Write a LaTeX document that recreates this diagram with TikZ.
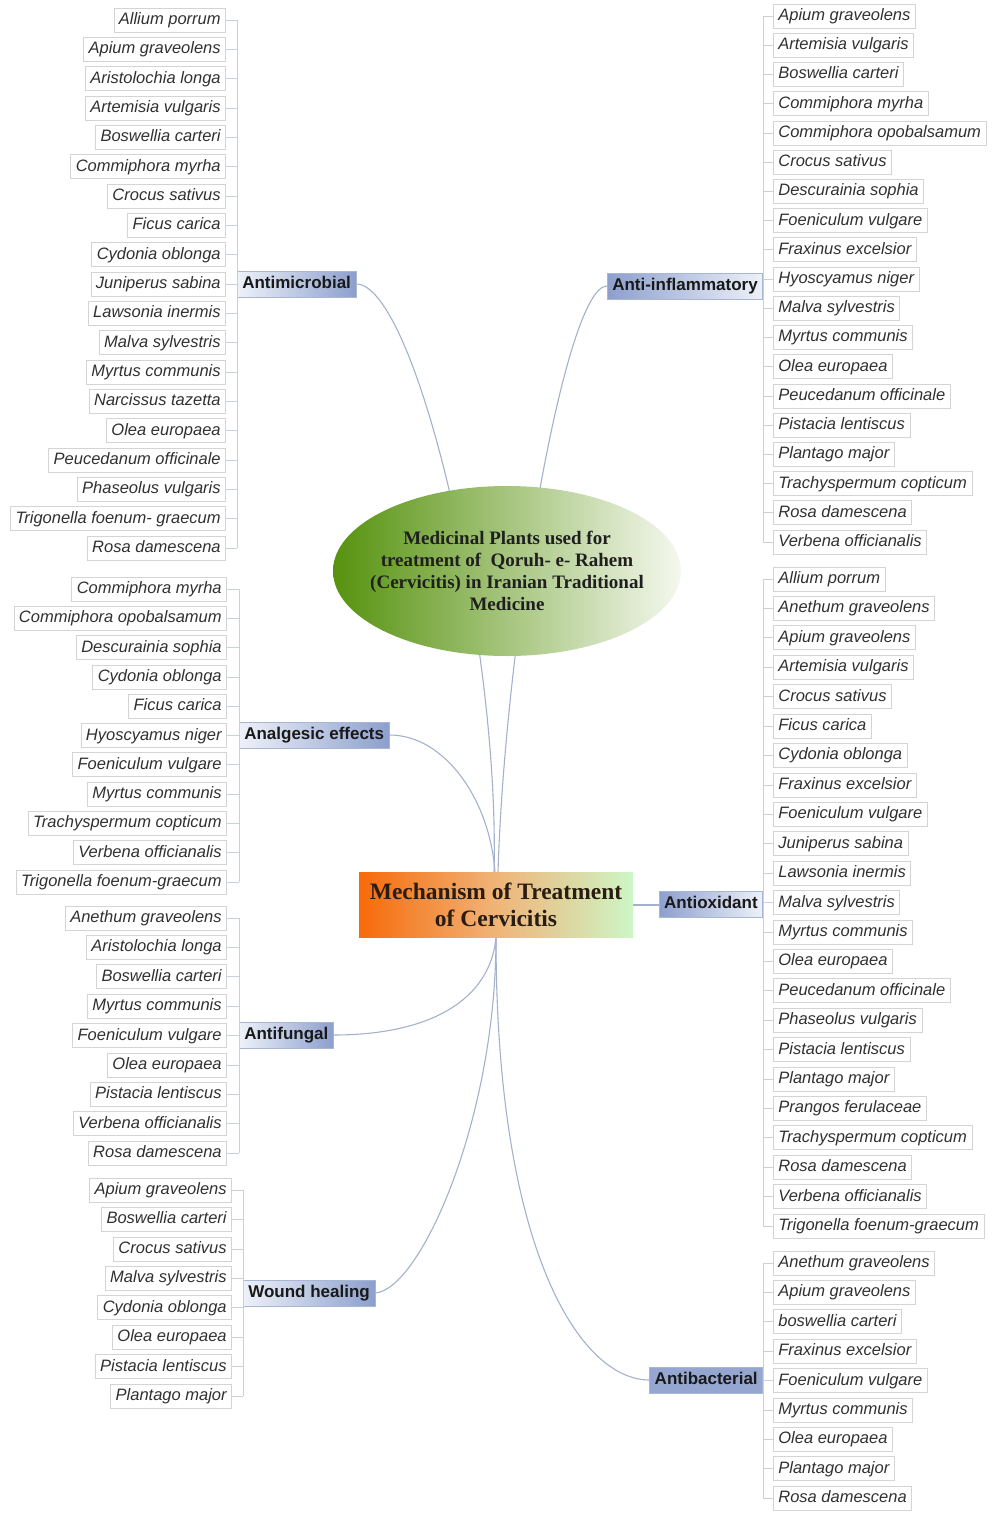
\documentclass[tikz,border=0pt]{standalone}
\usepackage{fontspec}
\setmainfont{Liberation Serif}
\setsansfont{Liberation Sans}
\newfontfamily\leaffont{Liberation Sans}
\usetikzlibrary{shapes.geometric}
\pgfdeclarelayer{background}
\pgfsetlayers{background,main}
\definecolor{leafgray}{HTML}{D4D4D4}
\definecolor{leaftext}{HTML}{303030}
\definecolor{catlight}{HTML}{EEF1F9}
\definecolor{catdark}{HTML}{8C9FCD}
\definecolor{catborder}{HTML}{A8B6D6}
\definecolor{connc}{HTML}{A3B1CC}
\definecolor{brackc}{HTML}{C8D0E0}
\definecolor{egreen}{HTML}{56920E}
\definecolor{elight}{HTML}{F5F8EE}
\definecolor{morange}{HTML}{F76A0A}
\definecolor{mmid}{HTML}{F0B478}
\definecolor{mgreen}{HTML}{CDF6C6}
\definecolor{mtext}{HTML}{2A1C10}
\tikzset{
  leaf/.style={draw=leafgray, line width=0.7pt, inner xsep=5pt, inner ysep=0pt,
    minimum height=24pt, text height=12.5pt, text depth=3.5pt,
    font=\leaffont\itshape\fontsize{16.5}{18}\selectfont, text=leaftext},
  cat/.style={draw=catborder, line width=0.6pt, inner xsep=5pt, inner ysep=0pt,
    minimum height=26pt, text height=12.5pt, text depth=3.5pt,
    font=\sffamily\bfseries\fontsize{17}{20}\selectfont, text=black!90},
  catL/.style={cat, left color=catlight, right color=catdark},
  catR/.style={cat, left color=catdark, right color=catlight},
  tickline/.style={draw=brackc, line width=0.7pt},
  conn/.style={draw=connc, line width=1.1pt},
}
% #1 prefix, #2 leaf edge x, #3 bracket x, #4 first y, #5 dy, #6 list
\newcommand{\lgroupL}[6]{%
  \coordinate (#1br) at (#3,#4);
  \foreach \t [count=\i] in {#6}{%
    \node[leaf, anchor=east] (#1\i) at (#2, {#4+(\i-1)*#5}) {\t};
    \draw[tickline] (#1\i.east) -- (#1\i.east -| #1br);
    \xdef\lastn{\i}%
  }%
  \draw[tickline] (#11.east -| #1br) -- (#1\lastn.east -| #1br);
}
\newcommand{\lgroupR}[6]{%
  \coordinate (#1br) at (#3,#4);
  \foreach \t [count=\i] in {#6}{%
    \node[leaf, anchor=west] (#1\i) at (#2, {#4+(\i-1)*#5}) {\t};
    \draw[tickline] (#1\i.west) -- (#1\i.west -| #1br);
    \xdef\lastn{\i}%
  }%
  \draw[tickline] (#11.west -| #1br) -- (#1\lastn.west -| #1br);
}
\begin{document}
\begin{tikzpicture}[x=1pt,y=-1pt]
\useasboundingbox (0,0) rectangle (1000,1515);

% central nodes
\node[ellipse, minimum width=348pt, minimum height=170pt, inner sep=0pt,
  left color=egreen, right color=elight] (ell) at (507,571) {};
\node[align=center, text=black!88, inner sep=0pt,
  font=\rmfamily\bfseries\fontsize{19}{22}\selectfont] (elltext) at (ell.center)
  {Medicinal Plants used for\\treatment of~ Qoruh- e- Rahem\\(Cervicitis) in Iranian Traditional\\Medicine};

\node[rectangle, minimum width=274pt, minimum height=65pt, inner sep=0pt,
  left color=morange, right color=mgreen, middle color=mmid, align=center,
  text=mtext, font=\rmfamily\bfseries\fontsize{23.5}{27}\selectfont] (mech) at (496,905)
  {Mechanism of Treatment\\of Cervicitis};

% categories
\node[catL, anchor=west] (amc) at (237,284) {Antimicrobial};
\node[catR, anchor=east] (aic) at (763,286) {Anti-inflammatory};
\node[catL, anchor=west] (anc) at (239,735) {Analgesic effects};
\node[catR, anchor=east] (aoc) at (763,904) {Antioxidant};
\node[catL, anchor=west] (afc) at (239,1035) {Antifungal};
\node[catL, anchor=west] (whc) at (243,1293) {Wound healing};
\node[cat, fill=catdark!92, anchor=east] (abc) at (763,1380) {Antibacterial};

% leaves
\lgroupL{am}{226}{237}{20}{29.33}{Allium porrum, Apium graveolens, Aristolochia longa, Artemisia vulgaris, Boswellia carteri, Commiphora myrha, Crocus sativus, Ficus carica, Cydonia oblonga, Juniperus sabina, Lawsonia inermis, Malva sylvestris, Myrtus communis, Narcissus tazetta, Olea europaea, Peucedanum officinale, Phaseolus vulgaris, Trigonella foenum- graecum, Rosa damescena}

\lgroupR{ai}{773}{763}{16}{29.22}{Apium graveolens, Artemisia vulgaris, Boswellia carteri, Commiphora myrha, Commiphora opobalsamum, Crocus sativus, Descurainia sophia, Foeniculum vulgare, Fraxinus excelsior, Hyoscyamus niger, Malva sylvestris, Myrtus communis, Olea europaea, Peucedanum officinale, Pistacia lentiscus, Plantago major, Trachyspermum copticum, Rosa damescena, Verbena officianalis}

\lgroupL{an}{227}{239}{589}{29.3}{Commiphora myrha, Commiphora opobalsamum, Descurainia sophia, Cydonia oblonga, Ficus carica, Hyoscyamus niger, Foeniculum vulgare, Myrtus communis, Trachyspermum copticum, Verbena officianalis, Trigonella foenum-graecum}

\lgroupL{af}{227}{239}{918}{29.375}{Anethum graveolens, Aristolochia longa, Boswellia carteri, Myrtus communis, Foeniculum vulgare, Olea europaea, Pistacia lentiscus, Verbena officianalis, Rosa damescena}

\lgroupL{wh}{232}{243}{1190}{29.43}{Apium graveolens, Boswellia carteri, Crocus sativus, Malva sylvestris, Cydonia oblonga, Olea europaea, Pistacia lentiscus, Plantago major}

\lgroupR{ao}{773}{763}{579}{29.41}{Allium porrum, Anethum graveolens, Apium graveolens, Artemisia vulgaris, Crocus sativus, Ficus carica, Cydonia oblonga, Fraxinus excelsior, Foeniculum vulgare, Juniperus sabina, Lawsonia inermis, Malva sylvestris, Myrtus communis, Olea europaea, Peucedanum officinale, Phaseolus vulgaris, Pistacia lentiscus, Plantago major, Prangos ferulaceae, Trachyspermum copticum, Rosa damescena, Verbena officianalis, Trigonella foenum-graecum}

\lgroupR{ab}{773}{763}{1263}{29.375}{Anethum graveolens, Apium graveolens, boswellia carteri, Fraxinus excelsior, Foeniculum vulgare, Myrtus communis, Olea europaea, Plantago major, Rosa damescena}

% connectors
\begin{pgfonlayer}{background}
\draw[conn] (amc.east) .. controls (415,284) and (500,640) .. ([xshift=-2pt]mech.north);
\draw[conn] (aic.west) .. controls (565,286) and (505,640) .. ([xshift=2pt]mech.north);
\draw[conn] (anc.east) .. controls (445,735) and (490,800) .. ([xshift=-1pt]mech.north);
\draw[conn] (afc.east) .. controls (430,1035) and (490,1000) .. (mech.south);
\draw[conn] (whc.east) .. controls (420,1290) and (496,1120) .. (mech.south);
\draw[conn] (abc.west) .. controls (580,1380) and (496,1250) .. (mech.south);
\draw[conn] (mech.east) -- (mech.east -| aoc.west);
\end{pgfonlayer}
\end{tikzpicture}
\end{document}
